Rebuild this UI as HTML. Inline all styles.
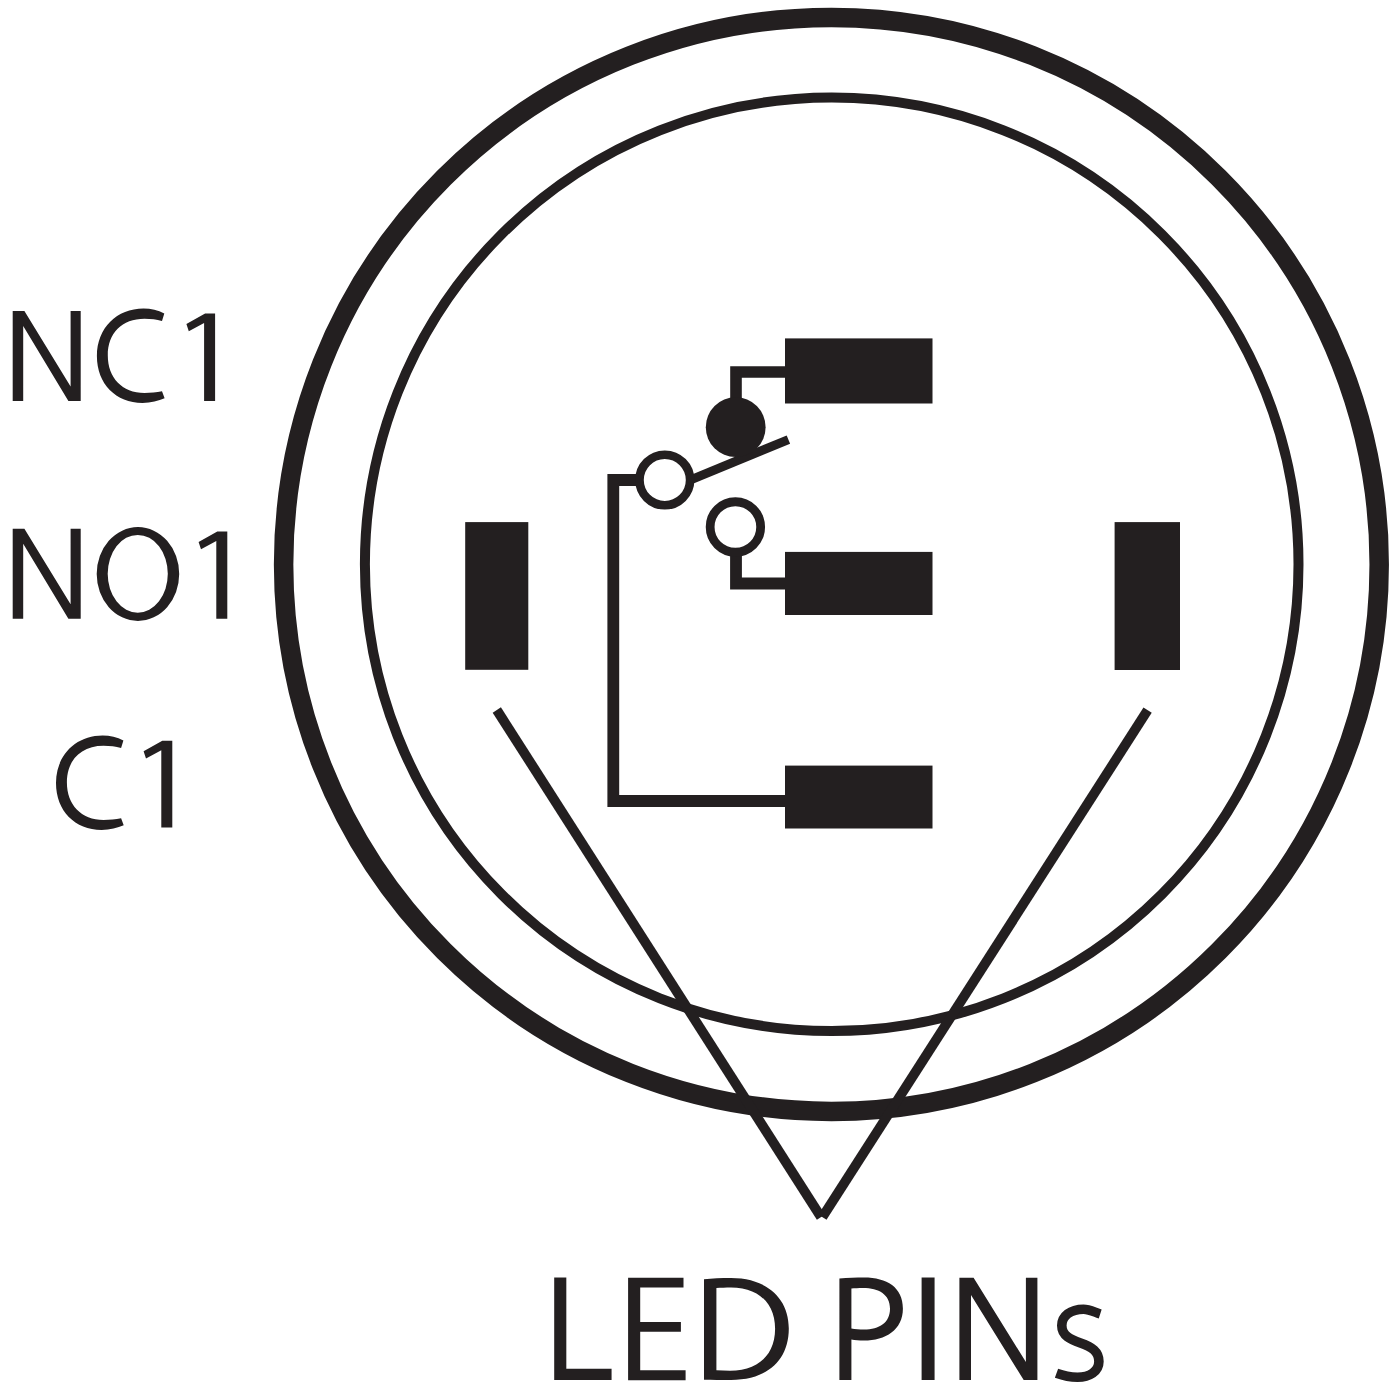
<!DOCTYPE html>
<html><head><meta charset="utf-8"><style>
html,body{margin:0;padding:0;background:#fff;}
body{width:1400px;height:1400px;overflow:hidden;}
svg{display:block;filter:blur(0.7px);}
text{font-family:"Liberation Sans",sans-serif;font-size:200.0px;fill:#231f20;}
</style></head><body>
<svg width="1400" height="1400" viewBox="0 0 1400 1400">
<rect width="1400" height="1400" fill="#fff"/>
<g fill="none" stroke="#231f20">
<ellipse cx="831.4" cy="564.4" rx="547.8" ry="547.0" stroke-width="19.5"/>
<circle cx="831.7" cy="564.3" r="466.8" stroke-width="10"/>
<path d="M736,400 V372 H790" stroke-width="11.6" stroke-linejoin="miter"/>
<path d="M736,556 V583.5 H790" stroke-width="11.8" stroke-linejoin="miter"/>
<path d="M640,480 H613.3 V801 H790" stroke-width="11.8" stroke-linejoin="miter"/>
<line x1="690" y1="480.1" x2="788.4" y2="439.6" stroke-width="9"/>
<line x1="496.8" y1="710" x2="821" y2="1217.2" stroke-width="9.8"/>
<line x1="1147.6" y1="710.2" x2="822.4" y2="1217.2" stroke-width="9.8"/>
</g>
<g fill="#231f20">
<circle cx="735.7" cy="427.2" r="29.9"/>
<rect x="785" y="338.4" width="147.5" height="65.1"/>
<rect x="785" y="551.9" width="147.5" height="63.1"/>
<rect x="785" y="765.6" width="147.5" height="62.9"/>
<rect x="465.2" y="522.1" width="63.1" height="147.7"/>
<rect x="1114.6" y="522.1" width="65.4" height="147.9"/>
</g>
<g fill="#fff" stroke="#231f20">
<circle cx="664.8" cy="480" r="25.3" stroke-width="8.6"/>
<circle cx="735.4" cy="527" r="25.25" stroke-width="8.8"/>
</g>
<text transform="translate(543.42 1380.10) scale(0.6509 0.7449)">L</text>
<text transform="translate(908.64 1380.10) scale(0.6970 0.7449)">I</text>
<g fill="#231f20">
<path d="M215.1,313.4 L215.1,401.0 L204.1,401.0 L204.1,322.9 L188.8,331.2 L186.4,323.9 L205.1,313.4 Z"/>
<path d="M227.3,531.4 L227.3,618.7 L216.3,618.7 L216.3,540.9 L201.0,549.2 L198.6,541.9 L217.3,531.4 Z"/>
<path d="M172.3,740.7 L172.3,827.6 L161.3,827.6 L161.3,750.2 L146.0,758.5 L143.6,751.2 L162.3,740.7 Z"/>
<path d="M164.3,313.6 C158,310 151,308.6 143.5,308.6 C117,308.6 96.9,328 96.9,356 C96.9,384 116,402.9 142.5,402.9 C151,402.9 158.5,401 164.6,398.3 L162,391.3 C156.5,392.5 150.5,393 144.5,393 C122,393 107.8,377.5 107.8,355.5 C107.8,333 122,318.7 144.5,318.7 C151,318.7 156.5,319.5 162,321 Z"/>
<path transform="translate(-40.9 427)" d="M164.3,313.6 C158,310 151,308.6 143.5,308.6 C117,308.6 96.9,328 96.9,356 C96.9,384 116,402.9 142.5,402.9 C151,402.9 158.5,401 164.6,398.3 L162,391.3 C156.5,392.5 150.5,393 144.5,393 C122,393 107.8,377.5 107.8,355.5 C107.8,333 122,318.7 144.5,318.7 C151,318.7 156.5,319.5 162,321 Z"/>
<path d="M628.1,1277.7 H683.5 V1287.6 H640.2 V1321.9 H680.9 V1331.7 H640.2 V1370.3 H685.6 V1380.2 H628.1 Z"/>
<path d="M12.7,400.9 V311 H24.4 L70.6,386.4 V311 H80.7 V400.9 H68.4 L23.2,326 V400.9 Z"/>
<path transform="translate(0 217.8)" d="M12.7,400.9 V311 H24.4 L70.6,386.4 V311 H80.7 V400.9 H68.4 L23.2,326 V400.9 Z"/>
<path fill-rule="evenodd" d="M96.7,574 A41.25,46.9 0 1,0 179.2,574 A41.25,46.9 0 1,0 96.7,574 Z M107.7,573.8 A30.05,38.9 0 1,0 167.8,573.8 A30.05,38.9 0 1,0 107.7,573.8 Z"/>
<path d="M959.4,1380.1 V1277.7 H973.6 L1025.9,1362.1 V1277.7 H1037.4 V1380.1 H1023.7 L971,1294.9 V1380.1 Z"/>
<path fill-rule="evenodd" d="M704,1379.7 V1279.3 C712,1278.5 721,1278.1 731,1278.1 C766,1278.1 788.8,1297.5 788.8,1328.5 C788.8,1361 766.5,1379.9 731,1379.9 C721,1379.9 712,1379.8 704,1379.7 Z M716.4,1370.3 C721,1370.6 725.5,1370.7 730,1370.7 C758,1370.7 775.1,1355 775.1,1328.8 C775.1,1303 758,1287.4 731,1287.4 C725.5,1287.4 721,1287.6 716.4,1288 Z"/>
<path fill-rule="evenodd" d="M839.4,1380.1 V1278.6 C848,1277.9 856,1277.6 864,1277.6 C887,1277.6 902.9,1287.5 902.9,1308.5 C902.9,1330 885.5,1340.5 864,1340.5 C859,1340.5 855,1340.2 851.4,1339.5 V1380.1 Z M851.4,1288.6 C854.5,1288.2 858.5,1288 863,1288 C879,1288 890,1294.5 890,1308.7 C890,1322.5 879.5,1329.5 864,1329.5 C859.5,1329.5 855,1329.2 851.4,1328.5 Z"/>
</g>
<path fill="none" stroke="#231f20" stroke-width="9.6" d="M1100.2,1314 C1094.5,1312.2 1089.5,1309.2 1083.5,1309.2 C1070.5,1309.2 1061.8,1316 1061.8,1325.5 C1061.8,1336 1071,1339.5 1080.5,1343 C1092,1347 1098.9,1351.5 1098.9,1361.5 C1098.9,1371.5 1089.5,1377.2 1077.5,1377.2 C1070,1377.2 1064,1376 1056.5,1373.3"/>
</svg>
</body></html>
